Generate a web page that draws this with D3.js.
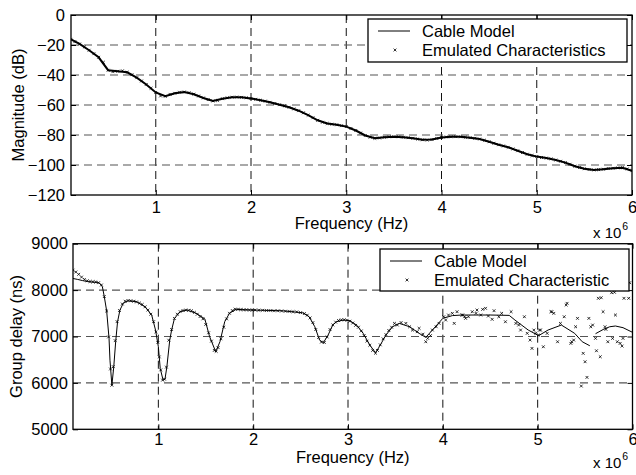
<!DOCTYPE html>
<html><head><meta charset="utf-8">
<script src="https://cdn.jsdelivr.net/npm/d3@7"></script>
<style>
body{margin:0;background:#fff}
text{font-family:"Liberation Sans",Arial,Helvetica,sans-serif;fill:#000}
</style>
</head><body>
<svg id="chart" width="636" height="475"></svg>
<script>
// ---------- data ----------
const xTicks = [1, 2, 3, 4, 5, 6];
const magTicks = [0, -20, -40, -60, -80, -100, -120];
const gdTicks = [5000, 6000, 7000, 8000, 9000];

const magFreq = [0.11,0.2,0.3,0.4,0.5,0.6,0.7,0.8,0.9,1.0,1.1,1.2,1.3,1.4,1.5,1.6,1.7,1.8,1.9,2.0,
  2.1,2.2,2.3,2.4,2.5,2.6,2.7,2.8,2.9,3.0,3.1,3.2,3.3,3.4,3.5,3.6,3.7,3.8,3.9,4.0,
  4.1,4.2,4.3,4.4,4.5,4.6,4.7,4.8,4.9,5.0,5.1,5.2,5.3,5.4,5.5,5.6,5.7,5.8,5.9,6.0];
const magModel = [-16.2,-19.3,-23.5,-28.2,-36.8,-37.5,-38.2,-41.8,-46.3,-51.6,-54.2,-52.2,-51.3,-52.8,-55.3,-57.3,-55.8,-54.8,-54.9,-55.6,
  -56.8,-58.2,-59.8,-61.5,-63.8,-66.8,-70.2,-72.3,-73.2,-74.4,-77.0,-80.3,-82.2,-81.5,-81.1,-81.5,-82.2,-83.2,-83.0,-81.6,
  -81.2,-81.2,-81.8,-82.7,-84.5,-86.5,-88.2,-90.5,-92.8,-94.4,-95.4,-96.7,-98.4,-100.8,-102.5,-103.3,-102.8,-102.2,-101.8,-103.8];

const magEmulFreq = [0.11,0.15,0.2,0.25,0.3,0.35,0.4,0.45,0.5,0.55,0.6,0.65,0.7,0.75,0.8,0.85,0.9,0.95,1.0,1.05,1.1,1.15,1.2,1.25,1.3,1.35,1.4,1.45,1.5,1.55,
  1.6,1.65,1.7,1.75,1.8,1.85,1.9,1.95,2.0,2.05,2.1,2.15,2.2,2.25,2.3,2.35,2.4,2.45,2.5,2.55,2.6,2.65,2.7,2.75,2.8,2.85,2.9,2.95,3.0,3.05,
  3.1,3.15,3.2,3.25,3.3,3.35,3.4,3.45,3.5,3.55,3.6,3.65,3.7,3.75,3.8,3.85,3.9,3.95,4.0,4.05,4.1,4.15,4.2,4.25,4.3,4.35,4.4,4.45,4.5,4.55,
  4.6,4.65,4.7,4.75,4.8,4.85,4.9,4.95,5.0,5.05,5.1,5.15,5.2,5.25,5.3,5.35,5.4,5.45,5.5,5.55,5.6,5.65,5.7,5.75,5.8,5.85,5.9,5.95,6.0];
const magEmul = [-16.2,-17.8,-19.3,-21.3,-23.5,-25.8,-28.2,-31.5,-36.8,-37.8,-37.5,-37.2,-38.2,-39.8,-41.8,-44.0,-46.3,-48.8,-51.6,-54.0,-54.2,-52.9,-52.2,-51.5,-51.3,-51.8,-52.8,-54.0,-55.3,-56.4,
  -57.3,-57.0,-55.8,-55.2,-54.8,-54.7,-54.9,-55.2,-55.6,-56.2,-56.8,-57.4,-58.2,-59.0,-59.8,-60.6,-61.5,-62.6,-63.8,-65.2,-66.8,-68.5,-70.2,-71.5,-72.3,-72.8,-73.2,-73.8,-74.4,-75.6,
  -77.0,-78.7,-80.3,-81.5,-82.2,-82.0,-81.5,-81.2,-81.1,-81.2,-81.5,-81.8,-82.2,-82.7,-83.2,-83.4,-83.0,-82.3,-81.6,-81.3,-81.2,-81.1,-81.2,-81.5,-81.8,-82.2,-82.7,-83.5,-84.5,-85.5,
  -86.5,-87.3,-88.2,-89.3,-90.5,-91.7,-92.8,-93.7,-94.4,-95.0,-95.4,-95.9,-96.7,-97.5,-98.4,-99.5,-100.8,-101.7,-102.5,-103.0,-103.3,-103.1,-102.8,-102.3,-102.2,-101.9,-101.8,-102.6,-103.8];

const gdFreq = [0.10,0.15,0.20,0.25,0.30,0.35,0.38,0.41,0.43,0.455,0.48,0.49,0.51,0.53,0.55,0.57,0.595,0.63,0.68,0.77,0.86,0.93,0.97,1.00,1.02,1.05,1.07,1.09,1.12,1.14,
  1.17,1.23,1.30,1.40,1.49,1.54,1.605,1.65,1.70,1.75,1.82,2.0,2.3,2.52,2.59,2.65,2.70,2.74,2.79,2.84,2.88,2.95,3.02,3.09,3.16,3.23,3.29,3.33,3.40,3.47,
  3.54,3.65,3.75,3.82,3.89,4.0,4.1,4.2,4.5,4.7,4.76,4.90,5.01,5.11,5.25,5.39,5.47,5.55,5.58,5.61,5.69,5.76,5.82,5.90,6.0];
const gdModel = [8250,8230,8205,8185,8175,8165,8150,8070,7860,7550,6960,6490,5950,6350,6890,7320,7570,7715,7770,7750,7640,7460,7140,6780,6310,6060,6080,6350,6920,7140,
  7390,7535,7570,7500,7380,7000,6670,6890,7320,7500,7585,7570,7555,7512,7426,7210,6924,6866,7031,7250,7318,7355,7340,7247,7068,6816,6650,6779,7031,7210,
  7283,7210,7068,6981,7140,7391,7450,7463,7463,7455,7355,7140,7018,7140,7247,7068,6887,6800,null,7060,7150,7210,7226,7190,7090];

const gdEmulFreq = [0.10,0.13,0.16,0.19,0.22,0.25,0.28,0.31,0.34,0.37,0.40,0.43,0.455,0.475,0.495,0.51,0.525,0.545,0.565,0.59,0.62,0.65,0.68,0.71,0.74,0.77,0.80,0.83,0.86,0.89,
  0.92,0.95,0.975,0.995,1.01,1.025,1.045,1.065,1.085,1.11,1.14,1.17,1.20,1.23,1.26,1.29,1.32,1.35,1.38,1.41,1.44,1.47,1.50,1.53,1.56,1.59,1.61,1.63,1.66,1.69,
  1.72,1.75,1.78,1.81,1.84,1.87,1.90,1.93,1.96,1.99,2.02,2.06,2.10,2.14,2.18,2.22,2.26,2.30,2.34,2.38,2.42,2.46,2.50,2.54,2.57,2.60,2.63,2.66,2.69,2.72,
  2.75,2.78,2.81,2.84,2.87,2.90,2.93,2.96,2.99,3.02,3.05,3.08,3.11,3.14,3.17,3.20,3.23,3.26,3.29,3.31,3.34,3.37,3.40,3.43,3.46,3.49,3.52,3.56,3.61,3.65,
  3.68,3.73,3.75,3.79,3.82,3.84,3.87,3.89,3.93,3.96,4.01,4.03,4.06,4.10,4.12,4.15,4.20,4.21,4.23,4.24,4.27,4.31,4.35,4.36,4.40,4.42,4.45,4.48,4.52,4.54,
  4.59,4.62,4.66,4.72,4.77,4.80,4.82,4.86,4.89,4.92,4.94,4.96,4.98,5.01,5.02,5.03,5.06,5.10,5.14,5.15,5.17,5.21,5.24,5.28,5.30,5.31,5.35,5.36,5.38,5.40,
  5.42,5.46,5.48,5.50,5.52,5.54,5.56,5.58,5.61,5.62,5.64,5.66,5.67,5.69,5.71,5.72,5.74,5.78,5.79,5.81,5.82,5.84,5.87,5.89,5.90,5.91,5.94,5.96,5.97];
const gdEmul = [8430,8390,8340,8280,8230,8200,8185,8180,8175,8160,8110,7860,7550,6990,6300,5950,6350,6910,7320,7560,7700,7760,7775,7770,7760,7745,7720,7690,7640,7570,
  7480,7320,7100,6870,6560,6280,6060,6080,6340,6920,7150,7390,7480,7535,7560,7570,7565,7555,7520,7480,7430,7380,7260,7080,6900,6700,6680,6760,6950,7200,
  7380,7500,7560,7590,7585,7580,7575,7575,7570,7570,7570,7565,7565,7560,7560,7555,7555,7550,7545,7540,7535,7530,7515,7495,7460,7400,7300,7150,6980,6880,
  6870,6990,7150,7250,7310,7345,7360,7360,7350,7330,7290,7240,7200,7120,7020,6900,6810,6700,6640,6700,6820,6950,7040,7130,7200,7283,7247,7300,7283,7210,
  7139,7103,7176,7050,6887,6960,7020,7139,7210,7283,7426,7355,7463,7499,7283,7534,7463,7463,7426,7391,7426,7534,7499,7570,7463,7585,7607,7441,7370,7556,
  7426,7499,7318,7534,7283,7247,7139,7426,7068,6924,6744,7139,7068,7031,7139,7139,6779,7068,7534,7534,7499,6887,7283,7426,7679,7715,6852,6887,6924,7210,
  7391,5932,6637,6456,6119,7391,7210,7247,6960,6693,7823,6564,7836,7534,7210,7154,6887,7944,6960,7952,7463,6887,6852,6794,6960,7823,8181,7823,8159];

// ---------- layout ----------
const svg = d3.select("#chart");
const FS = 16.5;
const FONT = "'Liberation Sans',Arial,Helvetica,sans-serif";
const markerPath = "M-1.4,-1.4L1.4,1.4M-1.4,1.4L1.4,-1.4";
const intFmt = d3.format("d");

function panel(o) {
  const g = svg.append("g");
  const x = d3.scaleLinear().domain(o.xDom).range([o.left, o.right]);
  const y = d3.scaleLinear().domain(o.yDom).range([o.bottom, o.top]);
  const clipId = "clip" + o.id;
  svg.append("clipPath").attr("id", clipId).append("rect")
    .attr("x", o.left).attr("y", o.top).attr("width", o.right - o.left).attr("height", o.bottom - o.top);

  // grid
  g.append("g").selectAll("line").data(o.xTicks.filter(v => v < o.xDom[1])).join("line")
    .attr("x1", d => x(d)).attr("x2", d => x(d)).attr("y1", o.top).attr("y2", o.bottom)
    .attr("stroke", "#111").attr("stroke-width", 1).attr("stroke-dasharray", "8,5");
  g.append("g").selectAll("line").data(o.yTicks.filter(v => v > o.yDom[0] && v < o.yDom[1])).join("line")
    .attr("x1", o.left).attr("x2", o.right).attr("y1", d => y(d)).attr("y2", d => y(d))
    .attr("stroke", "#555").attr("stroke-width", 1.2).attr("stroke-dasharray", "8,5");

  // data
  const dg = g.append("g").attr("clip-path", `url(#${clipId})`);
  const modelPts = o.modelX.map((f, i) => ({f, v: o.modelY[i]}));
  const line = d3.line().defined(d => d.v != null).x(d => x(d.f)).y(d => y(d.v));
  dg.append("path").datum(modelPts).attr("d", line)
    .attr("fill", "none").attr("stroke", "#000").attr("stroke-width", o.lineW);
  const emulPts = o.emulX.map((f, i) => ({f, v: o.emulY[i]}));
  dg.append("g").selectAll("path").data(emulPts).join("path")
    .attr("transform", d => `translate(${x(d.f)},${y(d.v)})`)
    .attr("d", markerPath).attr("stroke", "#000").attr("stroke-width", 0.8).attr("fill", "none");

  // axes
  const ax = g.append("g").attr("transform", `translate(0,${o.bottom})`)
    .call(d3.axisBottom(x).tickValues(o.xTicks).tickFormat(intFmt).tickSize(-5).tickPadding(o.xPad));
  const ay = g.append("g").attr("transform", `translate(${o.left},0)`)
    .call(d3.axisLeft(y).tickValues(o.yTicks).tickFormat(intFmt).tickSize(-5).tickPadding(o.yPad));
  g.append("g").attr("transform", `translate(0,${o.top})`)
    .call(d3.axisTop(x).tickValues(o.xTicks).tickSize(-5).tickFormat(""));
  g.append("g").attr("transform", `translate(${o.right},0)`)
    .call(d3.axisRight(y).tickValues(o.yTicks).tickSize(-5).tickFormat(""));
  g.selectAll(".domain").remove();
  g.selectAll(".tick line").attr("stroke", "#000");
  [ax, ay].forEach(a => a.attr("font-size", FS).attr("font-family", FONT)
    .selectAll("text").attr("fill", "#000"));
  g.append("rect").attr("x", o.left).attr("y", o.top).attr("width", o.right - o.left)
    .attr("height", o.bottom - o.top).attr("fill", "none").attr("stroke", "#000").attr("stroke-width", 1.3);

  // labels
  g.append("text").attr("x", (o.left + o.right) / 2).attr("y", o.bottom + o.xlabDy)
    .attr("text-anchor", "middle").attr("font-size", FS).text("Frequency (Hz)");
  const ex = g.append("text").attr("x", 593).attr("y", o.bottom + o.expDy).attr("font-size", 15);
  ex.append("tspan").text("x 10");
  ex.append("tspan").attr("dy", -8).attr("dx", 1).attr("font-size", 10.5).text("6");
  g.append("text").attr("transform", `translate(${o.ylabX},${(o.top + o.bottom) / 2}) rotate(-90)`)
    .attr("text-anchor", "middle").attr("font-size", FS).text(o.ylab);

  // legend
  const L = o.legend;
  const lg = g.append("g");
  lg.append("rect").attr("x", L.x).attr("y", L.y).attr("width", L.w).attr("height", L.h)
    .attr("fill", "#fff").attr("stroke", "#000").attr("stroke-width", 1.3);
  lg.append("line").attr("x1", L.x + 10).attr("x2", L.x + 42).attr("y1", L.y + 12).attr("y2", L.y + 12)
    .attr("stroke", "#000").attr("stroke-width", 1);
  lg.append("path").attr("transform", `translate(${L.x + 27},${L.y + 31})`).attr("d", markerPath)
    .attr("stroke", "#000").attr("stroke-width", 0.8);
  lg.append("text").attr("x", L.x + L.tx).attr("y", L.y + 17.5).attr("font-size", FS).text(L.t1);
  lg.append("text").attr("x", L.x + L.tx).attr("y", L.y + 36.5).attr("font-size", FS).text(L.t2);
}

panel({id: 1, left: 71, right: 632, top: 15, bottom: 195, xDom: [0.11, 6], yDom: [-120, 0],
  xTicks: xTicks, yTicks: magTicks, modelX: magFreq, modelY: magModel, emulX: magEmulFreq, emulY: magEmul,
  lineW: 2, ylab: "Magnitude (dB)", ylabX: 24, xPad: 6, yPad: 6, xlabDy: 34, expDy: 43,
  legend: {x: 368, y: 19, w: 259, h: 43, tx: 54, t1: "Cable Model", t2: "Emulated Characteristics"}});

panel({id: 2, left: 73, right: 632.5, top: 243.7, bottom: 429.3, xDom: [0.1, 6], yDom: [5000, 9000],
  xTicks: xTicks, yTicks: gdTicks, modelX: gdFreq, modelY: gdModel, emulX: gdEmulFreq, emulY: gdEmul,
  lineW: 1, ylab: "Group delay (ns)", ylabX: 22, xPad: 4, yPad: 5, xlabDy: 33.5, expDy: 39,
  legend: {x: 380, y: 249, w: 249, h: 42, tx: 54, t1: "Cable Model", t2: "Emulated Characteristic"}});
</script>
</body></html>
